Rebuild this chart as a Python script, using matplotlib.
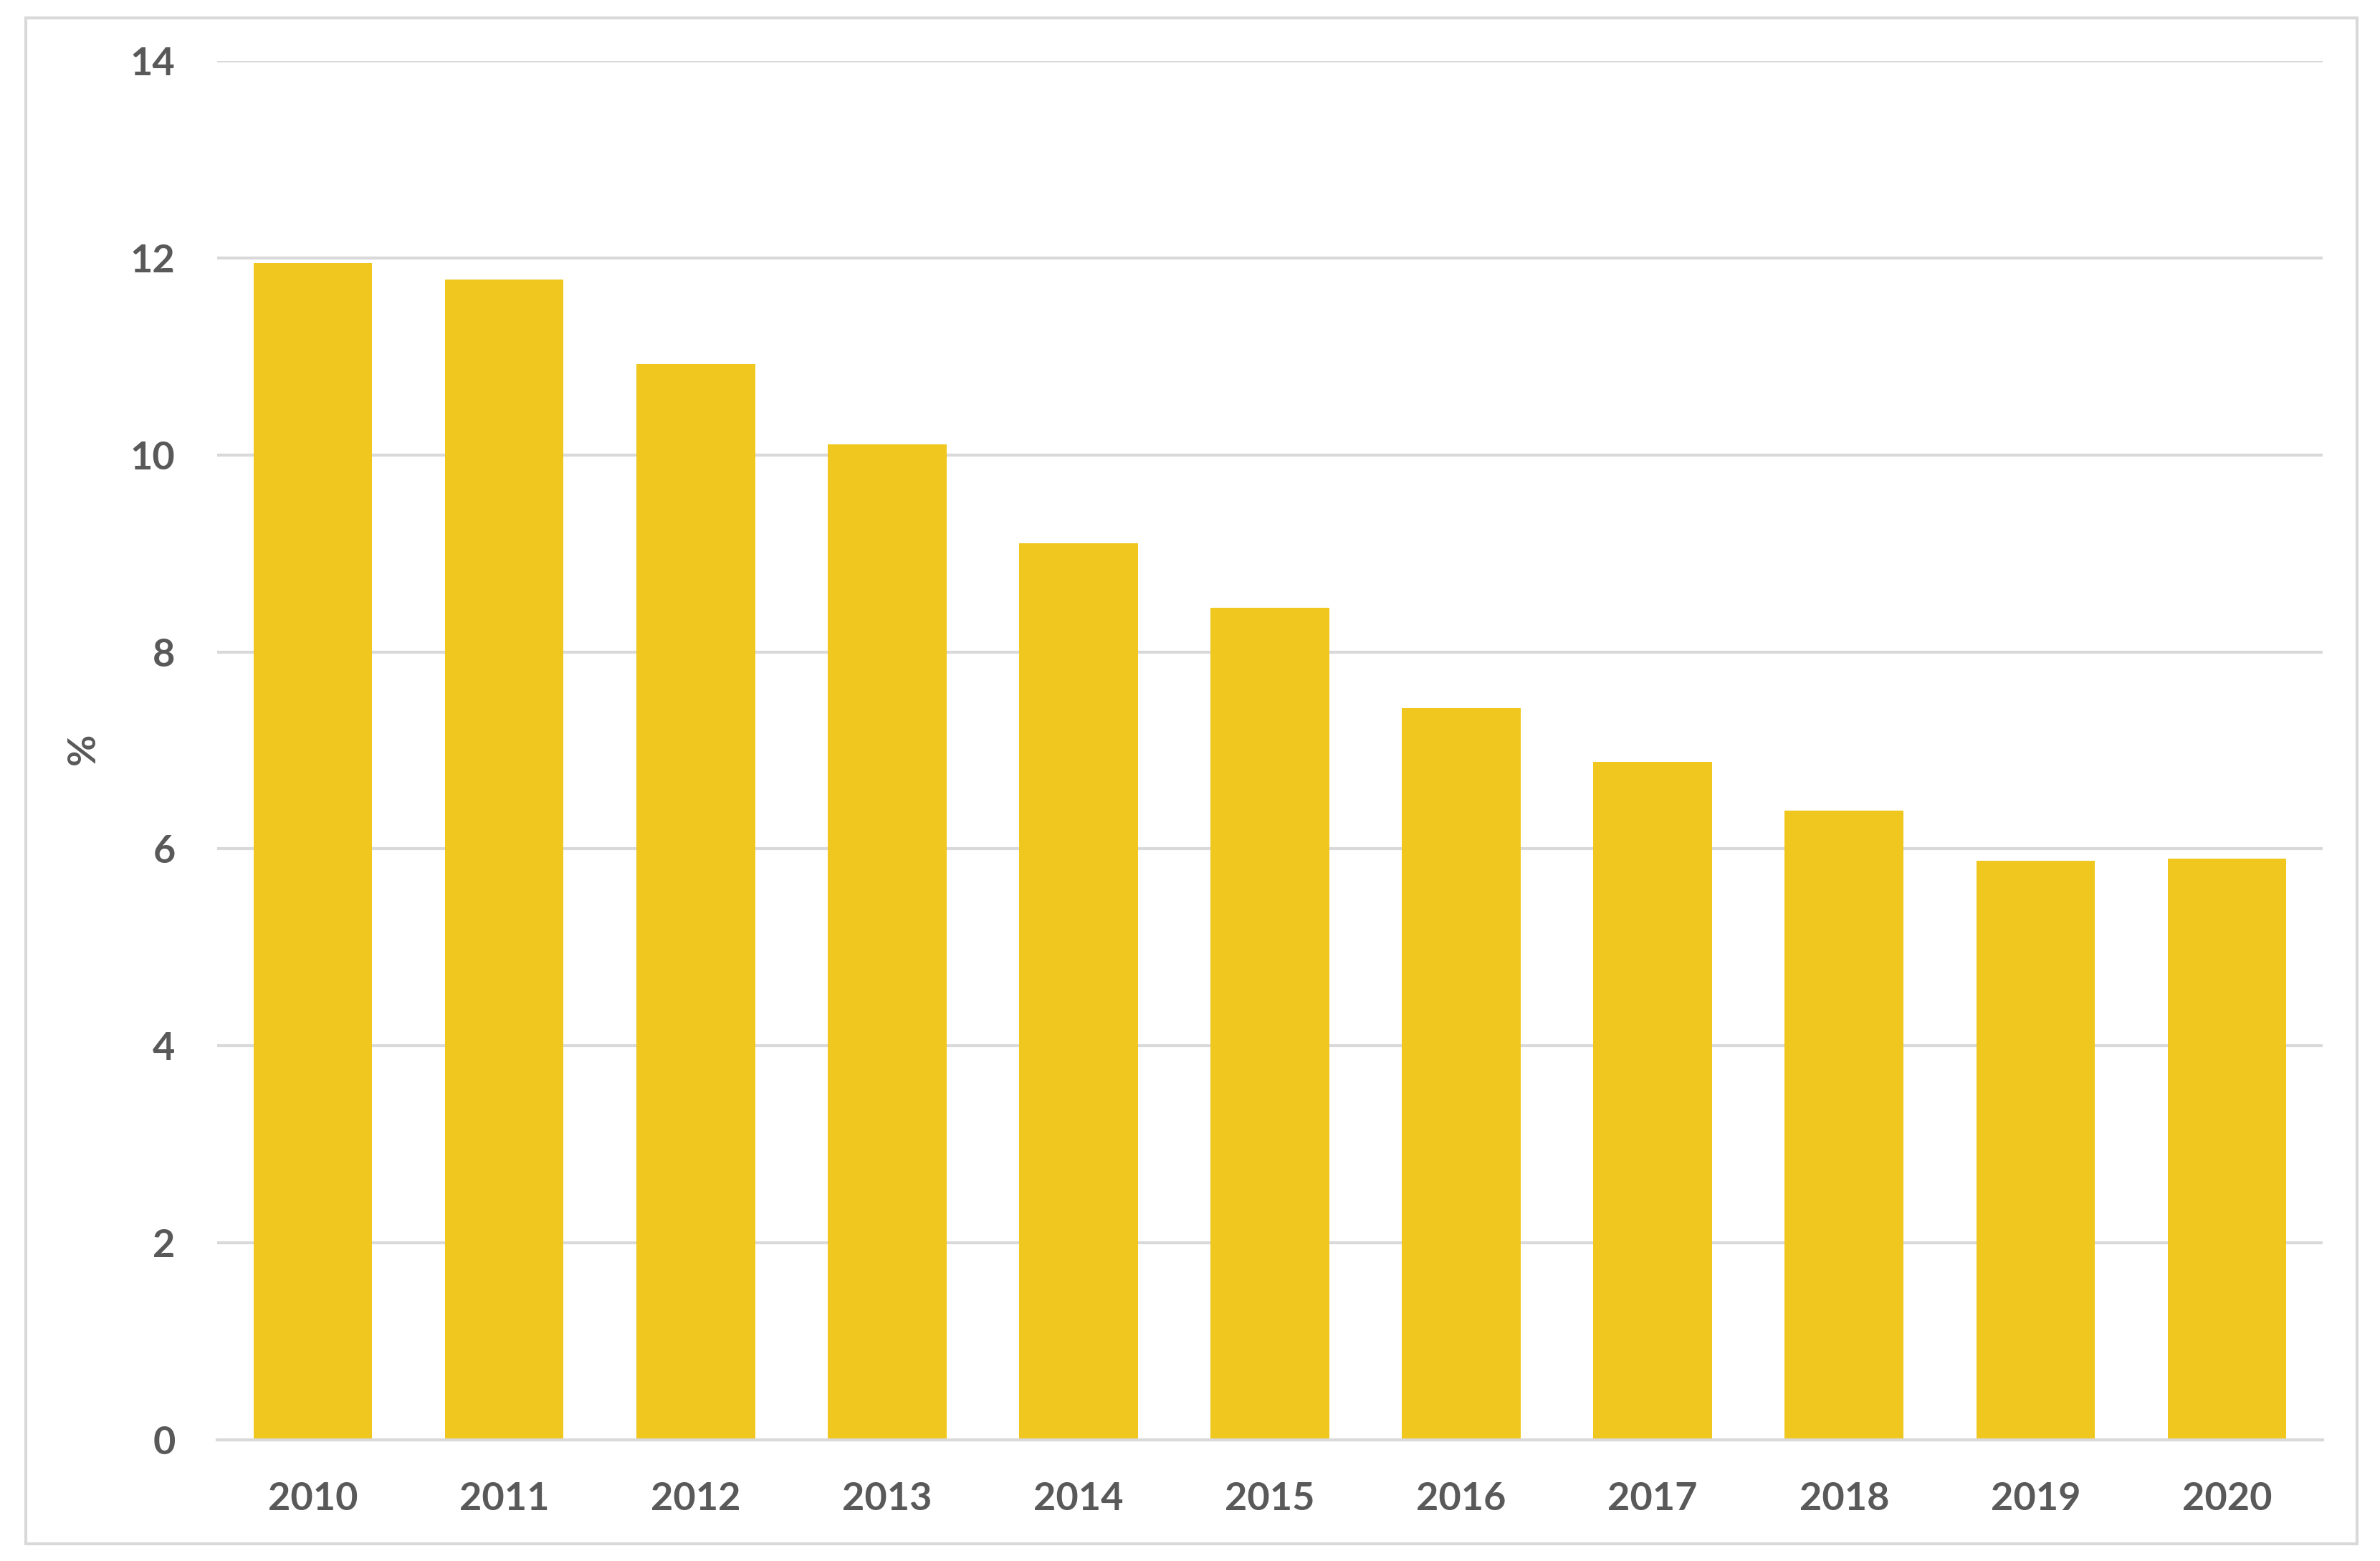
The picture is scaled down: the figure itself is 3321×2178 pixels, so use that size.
import matplotlib.pyplot as plt
from matplotlib.patches import Rectangle

years = ["2010", "2011", "2012", "2013", "2014", "2015",
         "2016", "2017", "2018", "2019", "2020"]
values = [11.95, 11.78, 10.92, 10.11, 9.10, 8.45, 7.43, 6.88, 6.39, 5.88, 5.90]
yticks = [0, 2, 4, 6, 8, 10, 12, 14]

BAR = "#F0C71E"
GRID = "#D9D9D9"
TEXT = "#595959"

plt.rcParams["font.family"] = ["Lato", "DejaVu Sans"]

W, H = 3321, 2178
fig = plt.figure(figsize=(W / 300, H / 300), dpi=300)
ax = fig.add_axes([303 / W, 1 - 2009 / H, (3241 - 303) / W, (2009 - 85) / H])

x = range(len(years))
ax.bar(x, values, width=0.62, color=BAR, zorder=3)

ax.set_xlim(-0.5, len(years) - 0.5)
ax.set_ylim(0, 14)
ax.set_yticks(yticks)
ax.set_xticks(list(x))
ax.set_xticklabels(years)
ax.yaxis.grid(True, color=GRID, linewidth=1.0, zorder=0)
ax.set_axisbelow(True)
for side in ["top", "right", "left"]:
    ax.spines[side].set_visible(False)
ax.spines["bottom"].set_color(GRID)
ax.spines["bottom"].set_linewidth(1.0)
ax.spines["bottom"].set_zorder(4)
ax.tick_params(axis="both", length=0, colors=TEXT, labelsize=13)
ax.tick_params(axis="y", pad=14)
ax.tick_params(axis="x", pad=14)
for lab in ax.get_xticklabels() + ax.get_yticklabels():
    lab.set_fontweight("bold")

# y-axis title, placed in figure coordinates
fig.text(116 / W, 1 - 1045 / H, "%", color=TEXT, fontsize=13, fontweight="bold",
         rotation=90, ha="center", va="center")

# outer chart border
fig.patches.append(Rectangle((36 / W, 1 - 2154 / H), (3289 - 36) / W, (2154 - 25) / H,
                             transform=fig.transFigure, fill=False,
                             edgecolor=GRID, linewidth=1.0))

fig.savefig("out.png", dpi=300, facecolor="white")
